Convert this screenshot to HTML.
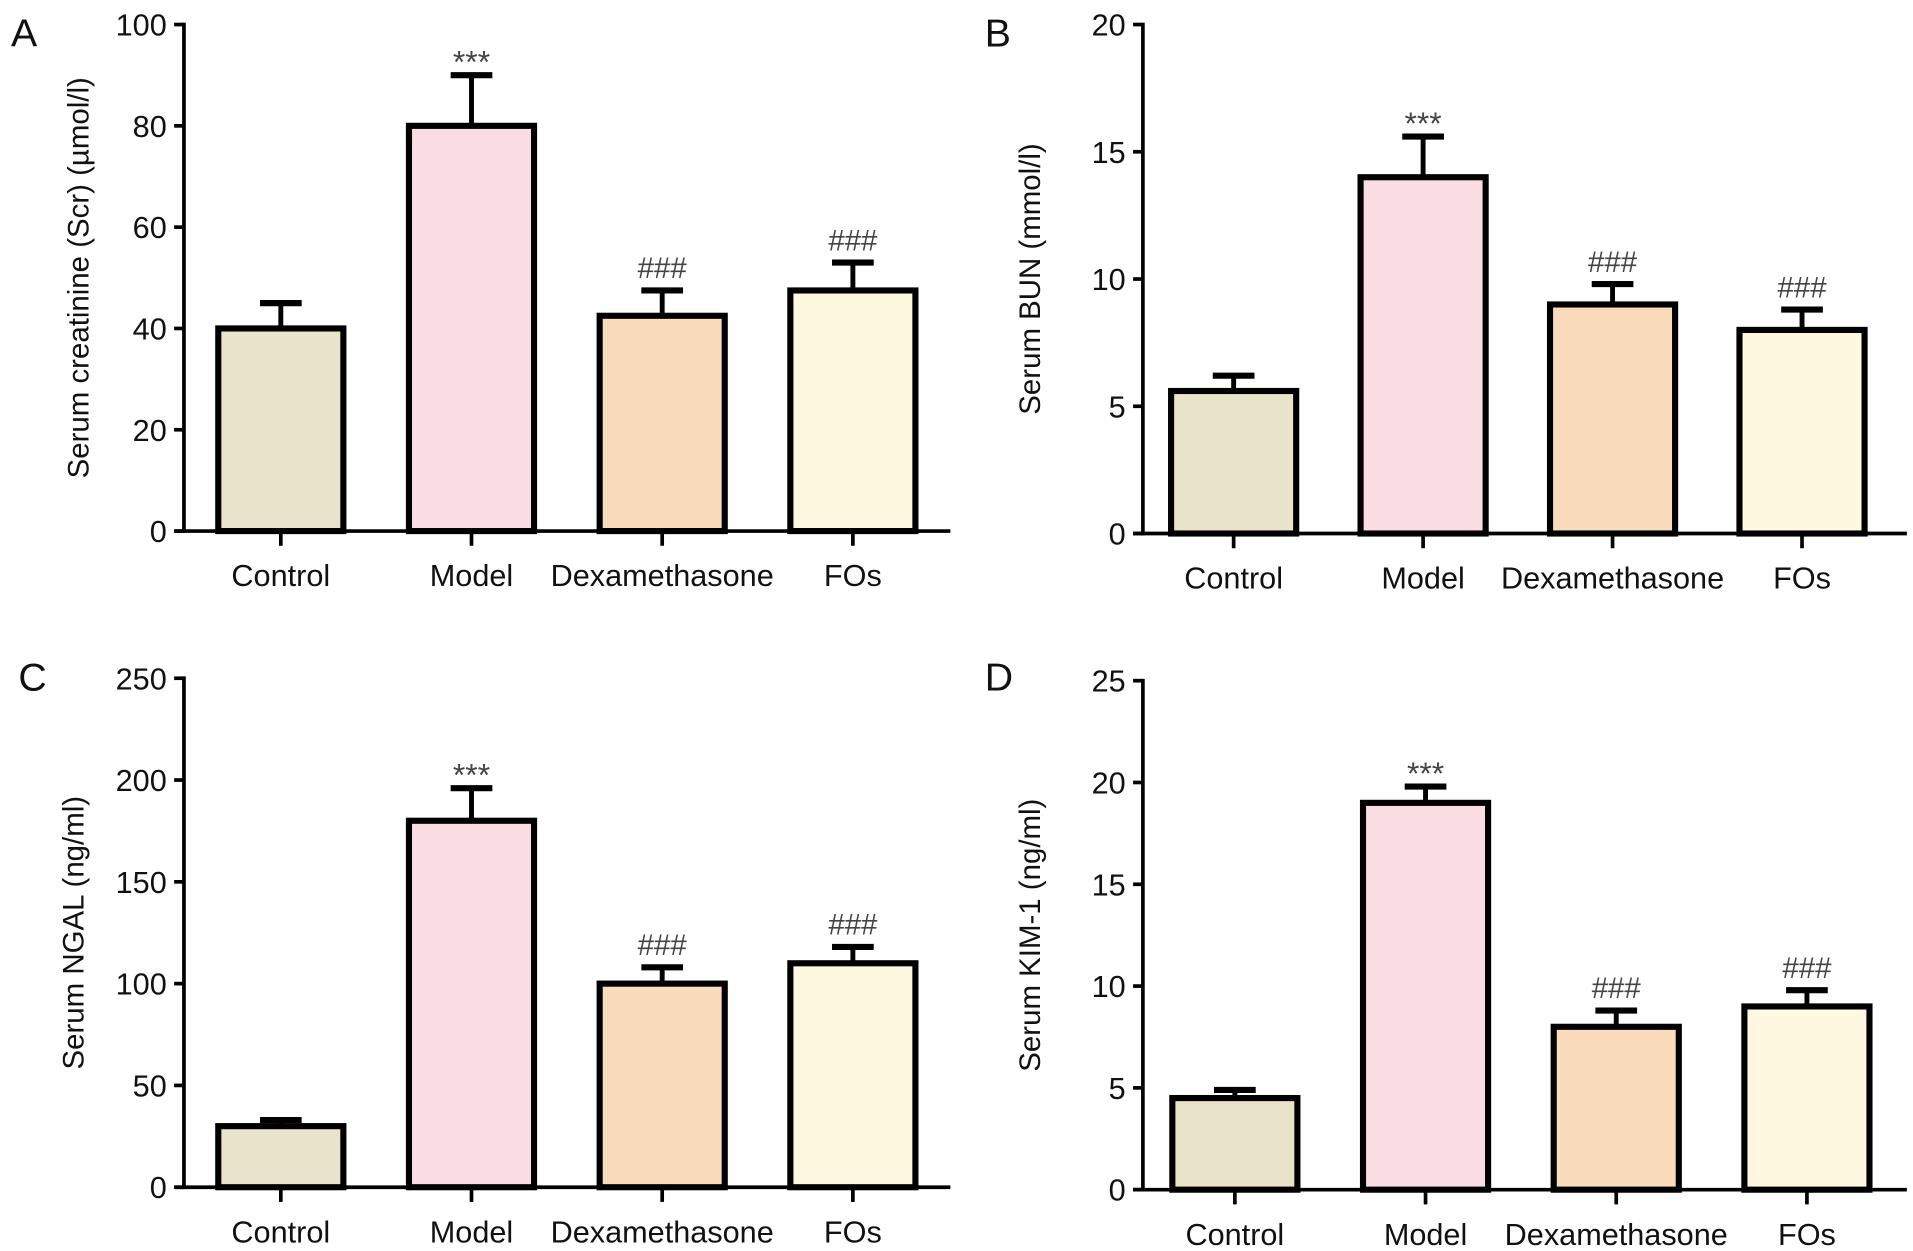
<!DOCTYPE html>
<html><head><meta charset="utf-8"><style>
html,body{margin:0;padding:0;background:#fff;}
svg{display:block;}
text{font-family:"Liberation Sans",Arial,sans-serif;fill:#111;}
</style></head>
<body>
<svg id="fig" width="1913" height="1251" viewBox="0 0 1560 1020" preserveAspectRatio="none" xmlns="http://www.w3.org/2000/svg"></svg>
<script>
const categories = ["Control","Model","Dexamethasone","FOs"];
const colors = ["#e8e3c9","#fadde2","#fadbbc","#fef8e1"];
const valuesA = [40,80,42.5,47.5];
const errorsA = [5,10,5,5.5];
const marksA = ["","***","###","###"];
const ticksA = [0,20,40,60,80,100];
const valuesB = [5.6,14,9,8];
const errorsB = [0.6,1.6,0.8,0.8];
const marksB = ["","***","###","###"];
const ticksB = [0,5,10,15,20];
const valuesC = [30,180,100,110];
const errorsC = [3,16,8,8];
const marksC = ["","***","###","###"];
const ticksC = [0,50,100,150,200,250];
const valuesD = [4.5,19,8,9];
const errorsD = [0.4,0.8,0.8,0.8];
const marksD = ["","***","###","###"];
const ticksD = [0,5,10,15,20,25];

const NS="http://www.w3.org/2000/svg";
const svg=document.getElementById('fig');
function mk(tag,attrs,parent,txt){const e=document.createElementNS(NS,tag);for(const k in attrs)e.setAttribute(k,attrs[k]);if(txt!==undefined)e.textContent=txt;(parent||svg).appendChild(e);return e;}

function panel(cfg){
  const g=mk('g',{});
  
  
  const ax=cfg.ax, y0=cfg.y0, yTop=cfg.yTop, maxV=cfg.ticks[cfg.ticks.length-1];
  const ys=v=>y0-(v/maxV)*(y0-yTop);
  const xs=i=>cfg.x0+i*cfg.step;
  const hw=51;
  const L=mk('text',{x:cfg.lx,y:cfg.ly,'font-size':32},g,cfg.letter);
  
  
  const t=mk('text',{x:0,y:0,'font-size':24,'text-anchor':'middle',transform:`translate(${cfg.tx},${(y0+yTop)/2}) rotate(-90)`},g,cfg.title);
  
  
  categories.forEach((c,i)=>{
    const cx=xs(i), v=cfg.values[i], e=cfg.errors[i];
    const yt=ys(v), ye=ys(v+e);
    mk('line',{x1:cx,x2:cx,y1:yt,y2:ye,stroke:'#000','stroke-width':4},g);
    const cap=mk('line',{x1:cx-17,x2:cx+17,y1:ye,y2:ye,stroke:'#000','stroke-width':5},g);
    
    
    const r=mk('rect',{x:cx-hw,y:yt,width:hw*2,height:y0-yt,fill:colors[i],stroke:'#000','stroke-width':5},g);
    
    
    if(cfg.marks[i]){
      const star=cfg.marks[i]==='***';
      const m=mk('text',{x:cx,y:ye-(star?2:10),'font-size':star?26:24,'text-anchor':'middle',style:'fill:#444'},g,cfg.marks[i]);
      
      
    }
    mk('line',{x1:cx,x2:cx,y1:y0,y2:y0+12,stroke:'#000','stroke-width':3},g);
    const cl=mk('text',{x:cx,y:y0+45,'font-size':25,'text-anchor':'middle'},g,c);
    
    
  });
  const ya=mk('line',{x1:ax,x2:ax,y1:yTop-1.5,y2:y0+1.5,stroke:'#000','stroke-width':3},g);
  
  
  const xa=mk('line',{x1:ax-8,x2:cfg.xEnd,y1:y0,y2:y0,stroke:'#000','stroke-width':3},g);
  
  
  cfg.ticks.forEach(v=>{
    const y=ys(v);
    mk('line',{x1:ax-8,x2:ax,y1:y,y2:y,stroke:'#000','stroke-width':3},g);
    const tl=mk('text',{x:ax-14,y:y+9,'font-size':25,'text-anchor':'end'},g,String(v));
    
    
  });
}
panel({letter:'A',lx:9,ly:38,ax:150,y0:433,yTop:20,x0:229,step:155.5,xEnd:775,tx:72,title:'Serum creatinine (Scr) (\u00b5mol/l)',values:valuesA,errors:errorsA,marks:marksA,ticks:ticksA});
panel({letter:'B',lx:803,ly:38,ax:932,y0:435,yTop:20,x0:1006,step:154.5,xEnd:1555,tx:848,title:'Serum BUN (mmol/l)',values:valuesB,errors:errorsB,marks:marksB,ticks:ticksB});
panel({letter:'C',lx:15,ly:563,ax:150,y0:968,yTop:553,x0:229,step:155.5,xEnd:775,tx:68,title:'Serum NGAL (ng/ml)',values:valuesC,errors:errorsC,marks:marksC,ticks:ticksC});
panel({letter:'D',lx:803,ly:563,ax:932,y0:970,yTop:555,x0:1007,step:155.5,xEnd:1555,tx:848,title:'Serum KIM-1 (ng/ml)',values:valuesD,errors:errorsD,marks:marksD,ticks:ticksD});
</script>
</body></html>
